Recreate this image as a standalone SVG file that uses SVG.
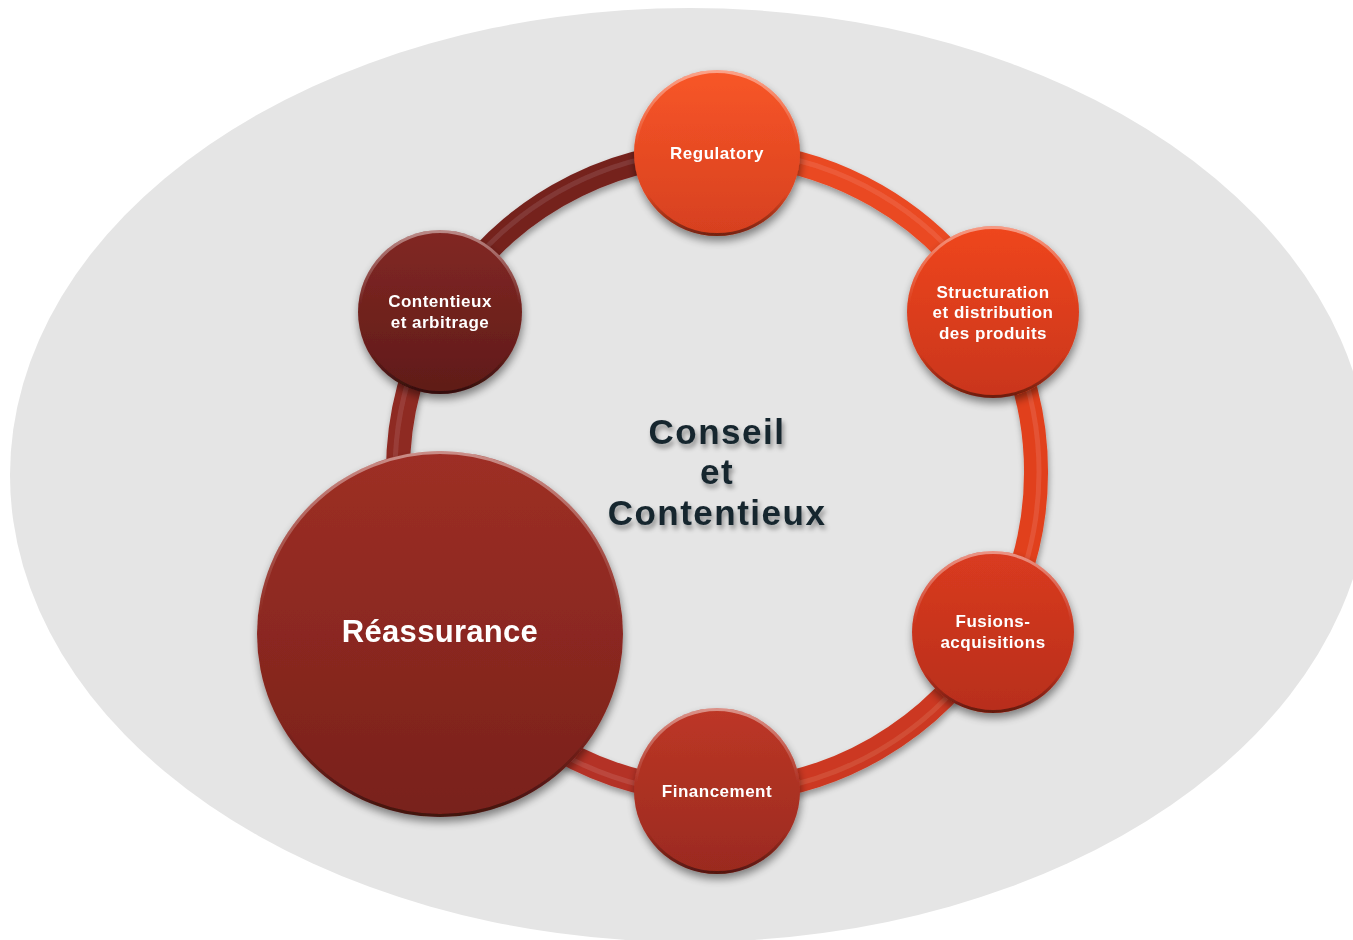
<svg xmlns="http://www.w3.org/2000/svg" width="1353" height="940" viewBox="0 0 1353 940">
<defs>
<filter id="shadow" x="-20%" y="-20%" width="140%" height="150%">
<feGaussianBlur in="SourceAlpha" stdDeviation="4"/>
<feOffset dx="1" dy="5" result="b"/>
<feComponentTransfer><feFuncA type="linear" slope="0.45"/></feComponentTransfer>
<feMerge><feMergeNode/><feMergeNode in="SourceGraphic"/></feMerge>
</filter>
<filter id="ringShadow" x="-10%" y="-10%" width="120%" height="120%">
<feGaussianBlur in="SourceAlpha" stdDeviation="3"/>
<feOffset dx="1" dy="4"/>
<feComponentTransfer><feFuncA type="linear" slope="0.35"/></feComponentTransfer>
<feMerge><feMergeNode/><feMergeNode in="SourceGraphic"/></feMerge>
</filter>
<filter id="textShadow" x="-10%" y="-20%" width="120%" height="150%">
<feGaussianBlur in="SourceAlpha" stdDeviation="2.5"/>
<feOffset dx="2" dy="4"/>
<feComponentTransfer><feFuncA type="linear" slope="0.4"/></feComponentTransfer>
<feMerge><feMergeNode/><feMergeNode in="SourceGraphic"/></feMerge>
</filter>
<linearGradient id="bevel" x1="0" y1="0" x2="0" y2="1">
<stop offset="0" stop-color="#ffffff" stop-opacity="0.45"/>
<stop offset="0.45" stop-color="#ffffff" stop-opacity="0"/>
<stop offset="0.75" stop-color="#000000" stop-opacity="0"/>
<stop offset="1" stop-color="#000000" stop-opacity="0.45"/>
</linearGradient>
<linearGradient id="gReg" x1="0" y1="0" x2="0" y2="1"><stop offset="0" stop-color="#f85628"/><stop offset="1" stop-color="#d6401f"/></linearGradient>
<linearGradient id="gStr" x1="0" y1="0" x2="0" y2="1"><stop offset="0" stop-color="#ef461d"/><stop offset="1" stop-color="#c9351a"/></linearGradient>
<linearGradient id="gFus" x1="0" y1="0" x2="0" y2="1"><stop offset="0" stop-color="#da3b20"/><stop offset="1" stop-color="#b72e1c"/></linearGradient>
<linearGradient id="gFin" x1="0" y1="0" x2="0" y2="1"><stop offset="0" stop-color="#bd3726"/><stop offset="1" stop-color="#9a2a1f"/></linearGradient>
<linearGradient id="gCon" x1="0" y1="0" x2="0" y2="1"><stop offset="0" stop-color="#822824"/><stop offset="1" stop-color="#5f1b18"/></linearGradient>
<linearGradient id="gRea" x1="0" y1="0" x2="0" y2="1"><stop offset="0" stop-color="#9e2f25"/><stop offset="1" stop-color="#78211b"/></linearGradient>
</defs>
<style>
.lbl{font-family:"Liberation Sans",Arial,sans-serif;font-weight:bold;fill:#ffffff;text-anchor:middle;font-size:17px;letter-spacing:0.5px}
.big{font-size:31px;letter-spacing:0.3px}
.center{font-family:"Liberation Sans",Arial,sans-serif;font-weight:bold;fill:#15252e;text-anchor:middle;font-size:35px;letter-spacing:1.5px}
.rim{fill:none;stroke:url(#bevel);stroke-width:3}
.seg{fill:none;stroke-width:24;stroke-linecap:butt}
.hl{fill:none;stroke:#ffffff;stroke-opacity:0.1;stroke-width:5}
</style>
<ellipse id="background" cx="690" cy="475" rx="680" ry="467" fill="#e5e5e5"/>
<g id="connectors" filter="url(#ringShadow)">
<path class="seg" stroke="#74221e" d="M440.7 312.5 A319 319 0 0 1 717 153"/>
<path class="seg" stroke="#ea4822" d="M717 153 A319 319 0 0 1 993.3 312.5"/>
<path class="seg" stroke="#e1401d" d="M993.3 312.5 A319 319 0 0 1 993.3 631.5"/>
<path class="seg" stroke="#cc3920" d="M993.3 631.5 A319 319 0 0 1 717 791"/>
<path class="seg" stroke="#b43328" d="M717 791 A319 319 0 0 1 440.7 631.5"/>
<path class="seg" stroke="#8e2922" d="M440.7 631.5 A319 319 0 0 1 440.7 312.5"/>
<circle class="hl" cx="717" cy="472" r="322"/>
</g>
<g id="node-regulatory" filter="url(#shadow)">
<circle cx="717" cy="153" r="83" fill="url(#gReg)"/>
<circle class="rim" cx="717" cy="153" r="81.5"/>
<text class="lbl" x="717" y="159">Regulatory</text>
</g>
<g id="node-structuration" filter="url(#shadow)">
<circle cx="993" cy="312" r="86" fill="url(#gStr)"/>
<circle class="rim" cx="993" cy="312" r="84.5"/>
<text class="lbl" x="993" y="298">Structuration</text>
<text class="lbl" x="993" y="318">et distribution</text>
<text class="lbl" x="993" y="339">des produits</text>
</g>
<g id="node-fusions" filter="url(#shadow)">
<circle cx="993" cy="632" r="81" fill="url(#gFus)"/>
<circle class="rim" cx="993" cy="632" r="79.5"/>
<text class="lbl" x="993" y="627">Fusions-</text>
<text class="lbl" x="993" y="648">acquisitions</text>
</g>
<g id="node-financement" filter="url(#shadow)">
<circle cx="717" cy="791" r="83" fill="url(#gFin)"/>
<circle class="rim" cx="717" cy="791" r="81.5"/>
<text class="lbl" x="717" y="797">Financement</text>
</g>
<g id="node-reassurance" filter="url(#shadow)">
<circle cx="440" cy="634" r="183" fill="url(#gRea)"/>
<circle class="rim" cx="440" cy="634" r="181.5"/>
<text class="lbl big" x="440" y="642">Réassurance</text>
</g>
<g id="node-contentieux" filter="url(#shadow)">
<circle cx="440" cy="312" r="82" fill="url(#gCon)"/>
<circle class="rim" cx="440" cy="312" r="80.5"/>
<text class="lbl" x="440" y="307">Contentieux</text>
<text class="lbl" x="440" y="328">et arbitrage</text>
</g>
<g id="center-title" filter="url(#textShadow)">
<text class="center" x="717" y="444">Conseil</text>
<text class="center" x="717" y="484">et</text>
<text class="center" x="717" y="525">Contentieux</text>
</g>
</svg>
